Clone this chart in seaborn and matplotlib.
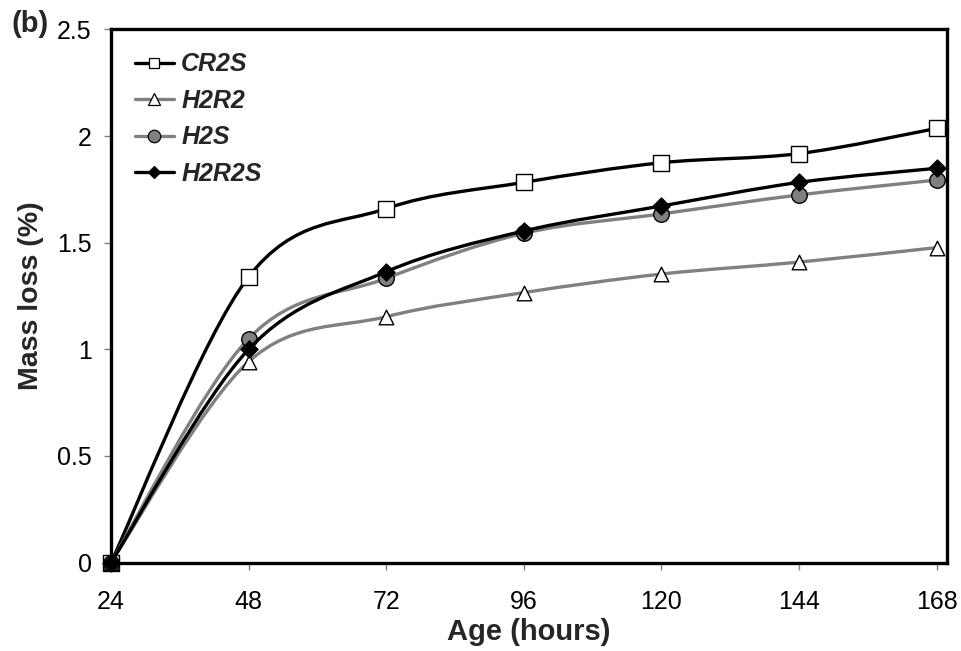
"""
Mass loss vs age - panel (b)
"""

import numpy as np
import pandas as pd
import matplotlib
matplotlib.use("Agg")
import matplotlib.pyplot as plt
from matplotlib.path import Path
from matplotlib.patches import PathPatch
from matplotlib.lines import Line2D
import seaborn as sns

# ─── Data ───────────────────────────────────────────────────────────────────
age = [24, 48, 72, 96, 120, 144, 168]
cr2s = [0, 1.34, 1.66, 1.783, 1.875, 1.918, 2.036]
h2r2 = [0, 0.942, 1.153, 1.266, 1.353, 1.409, 1.477]
h2s = [0, 1.05, 1.333, 1.544, 1.635, 1.724, 1.794]
h2r2s = [0, 1.0, 1.364, 1.555, 1.672, 1.783, 1.849]

series_names = ["CR2S", "H2R2", "H2S", "H2R2S"]
y_ticks = [0, 0.5, 1, 1.5, 2, 2.5]
y_tick_labels = ["0", "0.5", "1", "1.5", "2", "2.5"]

# ─── Style ──────────────────────────────────────────────────────────────────
sns.set_style("white")
plt.rcParams["font.family"] = ["Liberation Sans", "DejaVu Sans"]

# size = scatter area in the plot, leg = markersize in the legend
STYLE = {
    "CR2S":  dict(line="#000000", marker="s", face="#ffffff", size=130, leg=7.5),
    "H2R2":  dict(line="#808080", marker="^", face="#ffffff", size=110, leg=9),
    "H2S":   dict(line="#808080", marker="o", face="#808080", size=125, leg=9),
    "H2R2S": dict(line="#000000", marker="D", face="#000000", size=75, leg=6.5),
}
LW = 2.4


def smooth_path(x, y):
    # Catmull-Rom style bezier through the points (like excel "smoothed line")
    pts = np.column_stack([x, y]).astype(float)
    n = len(pts)
    verts = [pts[0]]
    codes = [Path.MOVETO]
    for i in range(n - 1):
        p0 = pts[max(i - 1, 0)]
        p1 = pts[i]
        p2 = pts[i + 1]
        p3 = pts[min(i + 2, n - 1)]
        verts += [p1 + (p2 - p0) / 6, p2 - (p3 - p1) / 6, p2]
        codes += [Path.CURVE4] * 3
    return Path(verts, codes)


df = pd.DataFrame({"age": age, "CR2S": cr2s, "H2R2": h2r2, "H2S": h2s, "H2R2S": h2r2s})
long_df = df.melt(id_vars="age", var_name="series", value_name="loss")

fig = plt.figure(figsize=(9.61, 6.51), dpi=100)
ax = fig.add_axes([0.1155, 0.1359, 0.8699, 0.8188])

handles = []
for i, name in enumerate(series_names):
    st = STYLE[name]
    sub = long_df[long_df["series"] == name]
    patch = PathPatch(smooth_path(sub["age"], sub["loss"]), facecolor="none",
                      edgecolor=st["line"], lw=LW, zorder=2 + 2 * i,
                      capstyle="round", joinstyle="round")
    ax.add_patch(patch)
    sns.scatterplot(data=sub, x="age", y="loss", marker=st["marker"], s=st["size"],
                    color=st["face"], edgecolor="#000000", linewidth=1.0,
                    zorder=3 + 2 * i, ax=ax, legend=False, clip_on=False)
    handles.append(Line2D([], [], color=st["line"], lw=LW, marker=st["marker"],
                          markersize=st["leg"], markerfacecolor=st["face"],
                          markeredgecolor="#000000", markeredgewidth=0.9))

ax.set_xlim(24, 169.8)
ax.set_ylim(0, 2.5)
ax.set_xticks(age)
ax.set_xticklabels([str(a) for a in age])
ax.set_yticks(y_ticks)
ax.set_yticklabels(y_tick_labels)
ax.tick_params(axis="both", direction="out", length=5, width=1, color="#808080",
               labelsize=18, labelcolor="#000000", left=True, bottom=True)
ax.tick_params(axis="y", pad=9)
ax.tick_params(axis="x", pad=15)

for sp in ax.spines.values():
    sp.set_edgecolor("#000000")
    sp.set_linewidth(2.4)
    sp.set_zorder(20)

ax.set_xlabel("Age (hours)", fontsize=21, fontweight="bold", labelpad=3)
ax.set_ylabel("Mass loss (%)", fontsize=20.5, fontweight="bold", labelpad=9)

leg = ax.legend(handles, series_names, loc="upper left", bbox_to_anchor=(0.0287, 0.957),
                frameon=False, borderpad=0, borderaxespad=0,
                handlelength=1.55, handletextpad=0.3, labelspacing=0.5,
                prop=dict(size=18, weight="bold", style="italic"))

fig.text(0.012, 0.963, "(b)", fontsize=21, fontweight="bold", va="center", ha="left")

fig.savefig("out.png", dpi=100, facecolor="white")
plt.close()
